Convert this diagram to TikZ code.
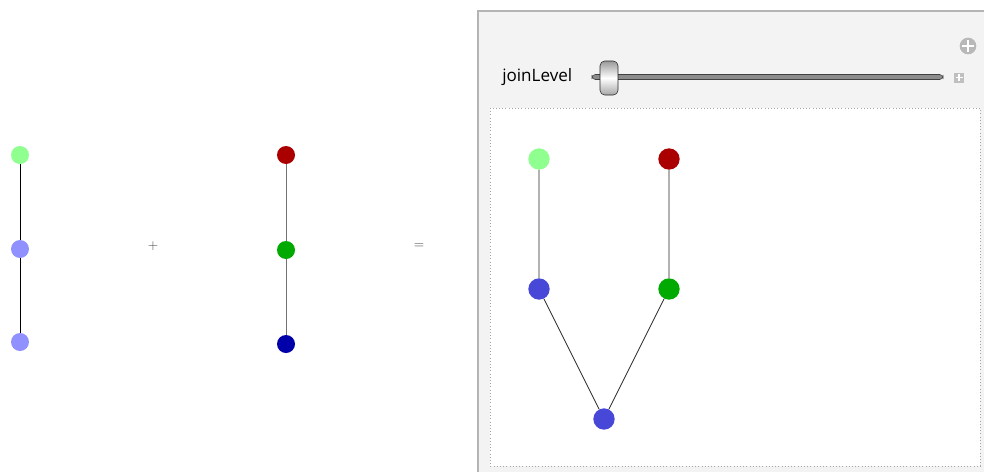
\documentclass[tikz,border=0pt]{standalone}
\usepackage{fontspec}
\setsansfont{Open Sans}
\usepackage{xcolor}
\definecolor{lgreen}{HTML}{8FFF8F}
\definecolor{lblue}{HTML}{9090FF}
\definecolor{dred}{HTML}{AA0000}
\definecolor{dgreen}{HTML}{00AA00}
\definecolor{dblue}{HTML}{0000AA}
\definecolor{mblue}{HTML}{4848D8}
\definecolor{panelbg}{HTML}{F3F3F3}
\definecolor{panelframe}{HTML}{B4B4B4}

\begin{document}
\begin{tikzpicture}[x=0.75pt, y=-0.75pt,
  vert/.style={circle, inner sep=0pt, minimum size=13.5pt},
  bigvert/.style={circle, inner sep=0pt, minimum size=16pt},
  op/.style={text=black!70, font=\normalsize}]
\useasboundingbox (0,0) rectangle (984,471);

% left graph
\node [vert, fill=lgreen] (a1) at (20, 155) {};
\node [vert, fill=lblue] (a2) at (20, 249) {};
\node [vert, fill=lblue] (a3) at (20, 342) {};
\draw [black] (a1) -- (a2) -- (a3);

\node [op] (plus) at (153, 246) {+};

% middle graph
\node [vert, fill=dred] (b1) at (286, 155) {};
\node [vert, fill=dgreen] (b2) at (286, 250) {};
\node [vert, fill=dblue] (b3) at (286, 344) {};
\draw [black!55, line width=0.6pt] (b1) -- (b2) -- (b3);

\node [op] (eq) at (419, 246) {=};

% panel
\draw [panelframe, line width=1.5pt, fill=panelbg] (478, 11) rectangle (1000, 490);
\node [font=\sffamily\fontsize{12.8}{15}\selectfont, anchor=west, inner sep=0pt] (lbl) at (502, 77) {joinLevel};
\draw [black!75, fill=black!45, rounded corners=2.5] (592, 74.5) rectangle (943, 79.5);
\draw [black!85, rounded corners=3.5, top color=black!40, bottom color=black!35, middle color=white] (600, 61) rectangle (618, 95);
\node [circle, fill=black!28, inner sep=0pt, minimum size=12.5pt] (addc) at (968, 46) {};
\draw [white, line width=2pt] (962, 46) -- (974, 46) (968, 40) -- (968, 52);
\fill [black!25] (954, 72.5) rectangle (964, 82.5);
\draw [white, line width=1.2pt] (955.5, 77.5) -- (962.5, 77.5) (959, 74) -- (959, 81);
\draw [black!35, dotted, fill=white] (490, 108) rectangle (980, 466);

% joined graph
\node [bigvert, fill=lgreen] (c1) at (539, 159) {};
\node [bigvert, fill=dred] (c2) at (669, 159) {};
\node [bigvert, fill=mblue] (c3) at (539, 289) {};
\node [bigvert, fill=dgreen] (c4) at (669, 289) {};
\node [bigvert, fill=mblue] (c5) at (604, 419) {};
\draw [black!85, line width=0.6pt] (c1) -- (c3) -- (c5) -- (c4) -- (c2);
\end{tikzpicture}
\end{document}
